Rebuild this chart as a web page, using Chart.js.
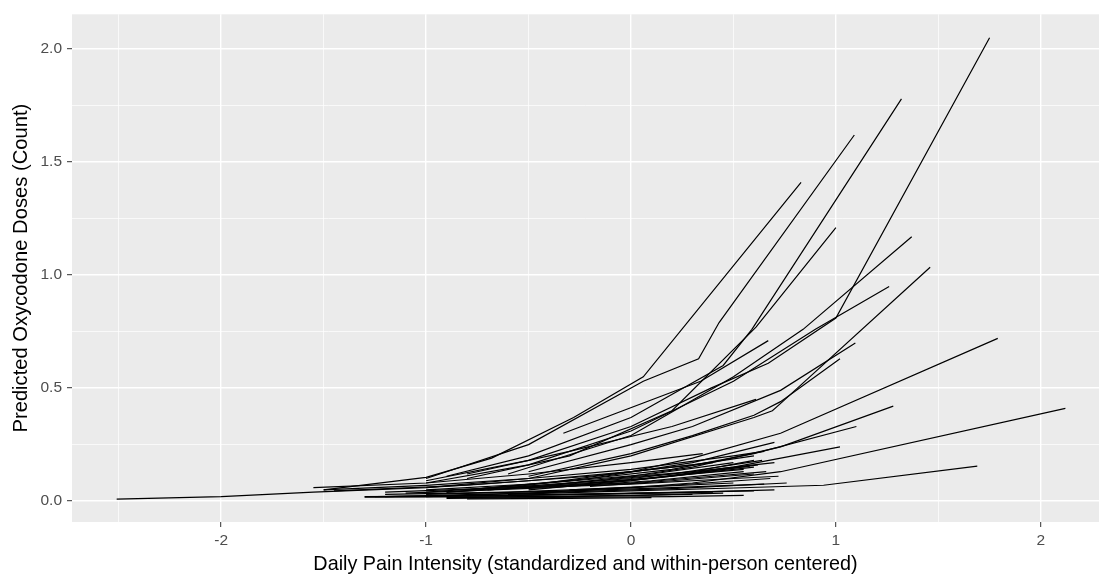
<!DOCTYPE html>
<html>
<head>
<meta charset="utf-8">
<script src="https://cdn.jsdelivr.net/npm/chart.js@4.4.0/dist/chart.umd.min.js"></script>
<style>
  html, body { margin: 0; padding: 0; background: #ffffff; }
  #wrap { width: 1100px; height: 576px; }
</style>
</head>
<body>
<div id="wrap"><canvas id="doseChart" width="1100" height="576"></canvas></div>
<script>
// Person-level predicted curves (pain value -> predicted doses).
// Steeper / higher curves
const highPain = [
  [-1.0, -0.5, 0.0, 0.39, 0.67, 1.0, 1.75],
  [-0.9, -0.5, 0.0, 0.45, 0.59, 1.32],
  [-1.0, -0.5, 0.06, 0.33, 0.43, 1.09],
  [-1.5, -1.0, -0.68, -0.28, 0.06, 0.83],
  [-0.8, -0.3, 0.2, 0.61, 1.0],
  [-0.6, 0.0, 0.5, 0.84, 1.37],
  [-1.0, -0.5, 0.0, 0.6, 0.69, 0.74, 1.46],
  [-1.0, -0.5, 0.0, 0.5, 0.9, 1.26],
  [-1.0, -0.5, 0.0, 0.3, 0.73, 1.79],
  [-0.33, 0.34, 0.67],
  [-0.5, 0.0, 0.3, 0.73, 1.095],
  [-0.5, 0.0, 0.3, 0.6, 0.73, 1.02],
  [-0.8, -0.3, 0.2, 0.61],
  [-0.5, 0.0, 0.3, 0.73, 1.28],
  [-1.0, -0.5, 0.0, 0.3, 0.73, 2.12],
  [-0.8, -0.3, 0.2, 0.6, 1.10],
  [-0.8, -0.2, 0.3, 0.70],
  [-0.5, 0.0, 0.5, 1.02],
  [-0.9, -0.3, 0.2, 0.64],
  [-0.6, 0.0, 0.5, 0.94, 1.69],
  [-1.2, -0.5, 0.2, 0.76],
  [-2.51, -2.0, -1.55, -1.0, -0.5, 0.0, 0.4]
];
const highDoses = [
  [0.09, 0.18, 0.33, 0.50, 0.61, 0.81, 2.05],
  [0.11, 0.20, 0.37, 0.60, 0.76, 1.78],
  [0.10, 0.25, 0.53, 0.63, 0.79, 1.62],
  [0.05, 0.105, 0.19, 0.37, 0.55, 1.41],
  [0.10, 0.20, 0.40, 0.77, 1.21],
  [0.12, 0.29, 0.55, 0.76, 1.17],
  [0.06, 0.10, 0.20, 0.37, 0.40, 0.44, 1.035],
  [0.08, 0.16, 0.31, 0.53, 0.76, 0.95],
  [0.04, 0.07, 0.13, 0.19, 0.30, 0.72],
  [0.30, 0.53, 0.71],
  [0.13, 0.25, 0.33, 0.49, 0.70],
  [0.11, 0.21, 0.29, 0.38, 0.44, 0.63],
  [0.12, 0.22, 0.33, 0.45],
  [0.06, 0.11, 0.15, 0.24, 0.42],
  [0.02, 0.035, 0.06, 0.08, 0.13, 0.41],
  [0.05, 0.09, 0.14, 0.21, 0.33],
  [0.05, 0.10, 0.17, 0.26],
  [0.05, 0.09, 0.15, 0.24],
  [0.04, 0.08, 0.12, 0.18],
  [0.03, 0.045, 0.058, 0.07, 0.155],
  [0.02, 0.035, 0.055, 0.08],
  [0.009, 0.02, 0.04, 0.06, 0.09, 0.13, 0.17]
];

// Flat, low-dose curves that form the dense band near zero
const lowPain = [
  [-1.5, -1.0, -0.5, 0.0, 0.5, 0.65],
  [-1.45, -0.8, -0.2, 0.3, 0.6],
  [-1.2, -0.6, 0.0, 0.5, 0.7],
  [-1.1, -0.4, 0.1, 0.55],
  [-0.9, -0.3, 0.2, 0.62],
  [-0.7, 0.0, 0.45, 0.58],
  [-1.3, -0.5, 0.0, 0.45],
  [-1.3, -0.8, -0.2, 0.3, 0.7],
  [-0.8, -0.3, 0.1],
  [-1.0, -0.3, 0.2, 0.65],
  [-0.6, 0.0, 0.4, 0.66],
  [-0.4, 0.1, 0.5, 0.6],
  [-1.55, -1.0, -0.5, 0.0, 0.35],
  [-0.3, 0.2, 0.68],
  [-1.2, -0.6, 0.0, 0.5],
  [-0.2, 0.3, 0.55],
  [-1.0, -0.4, 0.1, 0.5],
  [-0.6, 0.0, 0.6],
  [-0.1, 0.3, 0.6],
  [-0.9, -0.3, 0.3],
  [-1.25, -0.7, -0.1, 0.4],
  [-0.9, -0.4, 0.2, 0.55],
  [-0.5, 0.0, 0.5, 0.72],
  [-0.2, 0.2, 0.6]
];
const lowDoses = [
  [0.05, 0.07, 0.10, 0.14, 0.20, 0.22],
  [0.045, 0.07, 0.11, 0.16, 0.20],
  [0.04, 0.06, 0.10, 0.15, 0.17],
  [0.035, 0.06, 0.09, 0.13],
  [0.04, 0.07, 0.11, 0.16],
  [0.05, 0.09, 0.14, 0.155],
  [0.018, 0.02, 0.025, 0.035],
  [0.02, 0.022, 0.03, 0.04, 0.05],
  [0.01, 0.012, 0.015],
  [0.03, 0.045, 0.06, 0.075],
  [0.06, 0.08, 0.11, 0.13],
  [0.07, 0.10, 0.14, 0.15],
  [0.06, 0.08, 0.12, 0.17, 0.21],
  [0.05, 0.07, 0.10],
  [0.03, 0.04, 0.06, 0.08],
  [0.08, 0.12, 0.14],
  [0.05, 0.08, 0.12, 0.17],
  [0.025, 0.035, 0.045],
  [0.10, 0.13, 0.18],
  [0.015, 0.02, 0.03],
  [0.02, 0.025, 0.032, 0.04],
  [0.012, 0.016, 0.02, 0.025],
  [0.06, 0.075, 0.10, 0.11],
  [0.065, 0.09, 0.12]
];

const xTickLabels = [-2, -1, 0, 1, 2];
const yTickLabels = ['0.0', '0.5', '1.0', '1.5', '2.0'];

const xTitle = 'Daily Pain Intensity (standardized and within-person centered)';
const yTitle = 'Predicted Oxycodone Doses (Count)';

const FONT = "'Liberation Sans', Arial, sans-serif";

// Build one line dataset per person
function personLine(xs, ys) {
  return {
    data: xs.map((x, i) => ({ x: x, y: ys[i] })),
    showLine: true,
    borderColor: '#000000',
    borderWidth: 1.2,
    pointRadius: 0,
    fill: false,
    tension: 0
  };
}

const datasets = [];
highPain.forEach((xs, i) => datasets.push(personLine(xs, highDoses[i])));
lowPain.forEach((xs, i) => datasets.push(personLine(xs, lowDoses[i])));

function near(v, target) { return Math.abs(v - target) < 1e-6; }
function isXMajor(v) { return xTickLabels.some(t => near(v, t)); }
function isYMajor(v) { return yTickLabels.some(t => near(v, parseFloat(t))); }

// ggplot-style grey panel
const panelBackground = {
  id: 'panelBackground',
  beforeDraw(chart) {
    const { ctx, chartArea } = chart;
    ctx.save();
    ctx.fillStyle = '#EBEBEB';
    ctx.fillRect(chartArea.left, chartArea.top,
      chartArea.right - chartArea.left, chartArea.bottom - chartArea.top);
    ctx.restore();
  }
};

const ctx = document.getElementById('doseChart').getContext('2d');
new Chart(ctx, {
  type: 'scatter',
  data: { datasets: datasets },
  plugins: [panelBackground],
  options: {
    responsive: false,
    animation: false,
    layout: { padding: { top: 12, right: 1, left: 0, bottom: 0 } },
    plugins: {
      legend: { display: false },
      tooltip: { enabled: false }
    },
    scales: {
      x: {
        type: 'linear',
        min: -2.728,
        max: 2.284,
        afterFit: function(scale) { scale.height = 54; },
        border: { display: false },
        grid: {
          color: '#FFFFFF',
          lineWidth: c => isXMajor(c.tick.value) ? 1.4 : 0.7,
          tickColor: c => isXMajor(c.tick.value) ? '#333333' : 'rgba(0,0,0,0)',
          tickWidth: 1,
          tickLength: 5
        },
        ticks: {
          stepSize: 0.5,
          includeBounds: false,
          autoSkip: false,
          maxRotation: 0,
          padding: 4,
          color: '#4D4D4D',
          font: { family: FONT, size: 15.5 },
          callback: v => isXMajor(v) ? String(Math.round(v)) : ''
        },
        title: {
          display: true,
          text: xTitle,
          color: '#000000',
          font: { family: FONT, size: 19.8 },
          padding: { top: 0, bottom: 0 }
        }
      },
      y: {
        type: 'linear',
        min: -0.0925,
        max: 2.154,
        afterFit: function(scale) { scale.width = 72; },
        border: { display: false },
        grid: {
          color: '#FFFFFF',
          lineWidth: c => isYMajor(c.tick.value) ? 1.4 : 0.7,
          tickColor: c => isYMajor(c.tick.value) ? '#333333' : 'rgba(0,0,0,0)',
          tickWidth: 1,
          tickLength: 5
        },
        ticks: {
          stepSize: 0.25,
          includeBounds: false,
          autoSkip: false,
          padding: 5,
          color: '#4D4D4D',
          font: { family: FONT, size: 15.5 },
          callback: v => isYMajor(v) ? v.toFixed(1) : ''
        },
        title: {
          display: true,
          text: yTitle,
          color: '#000000',
          font: { family: FONT, size: 20.2 },
          padding: { top: 9, bottom: 0 }
        }
      }
    }
  }
});
</script>
</body>
</html>
